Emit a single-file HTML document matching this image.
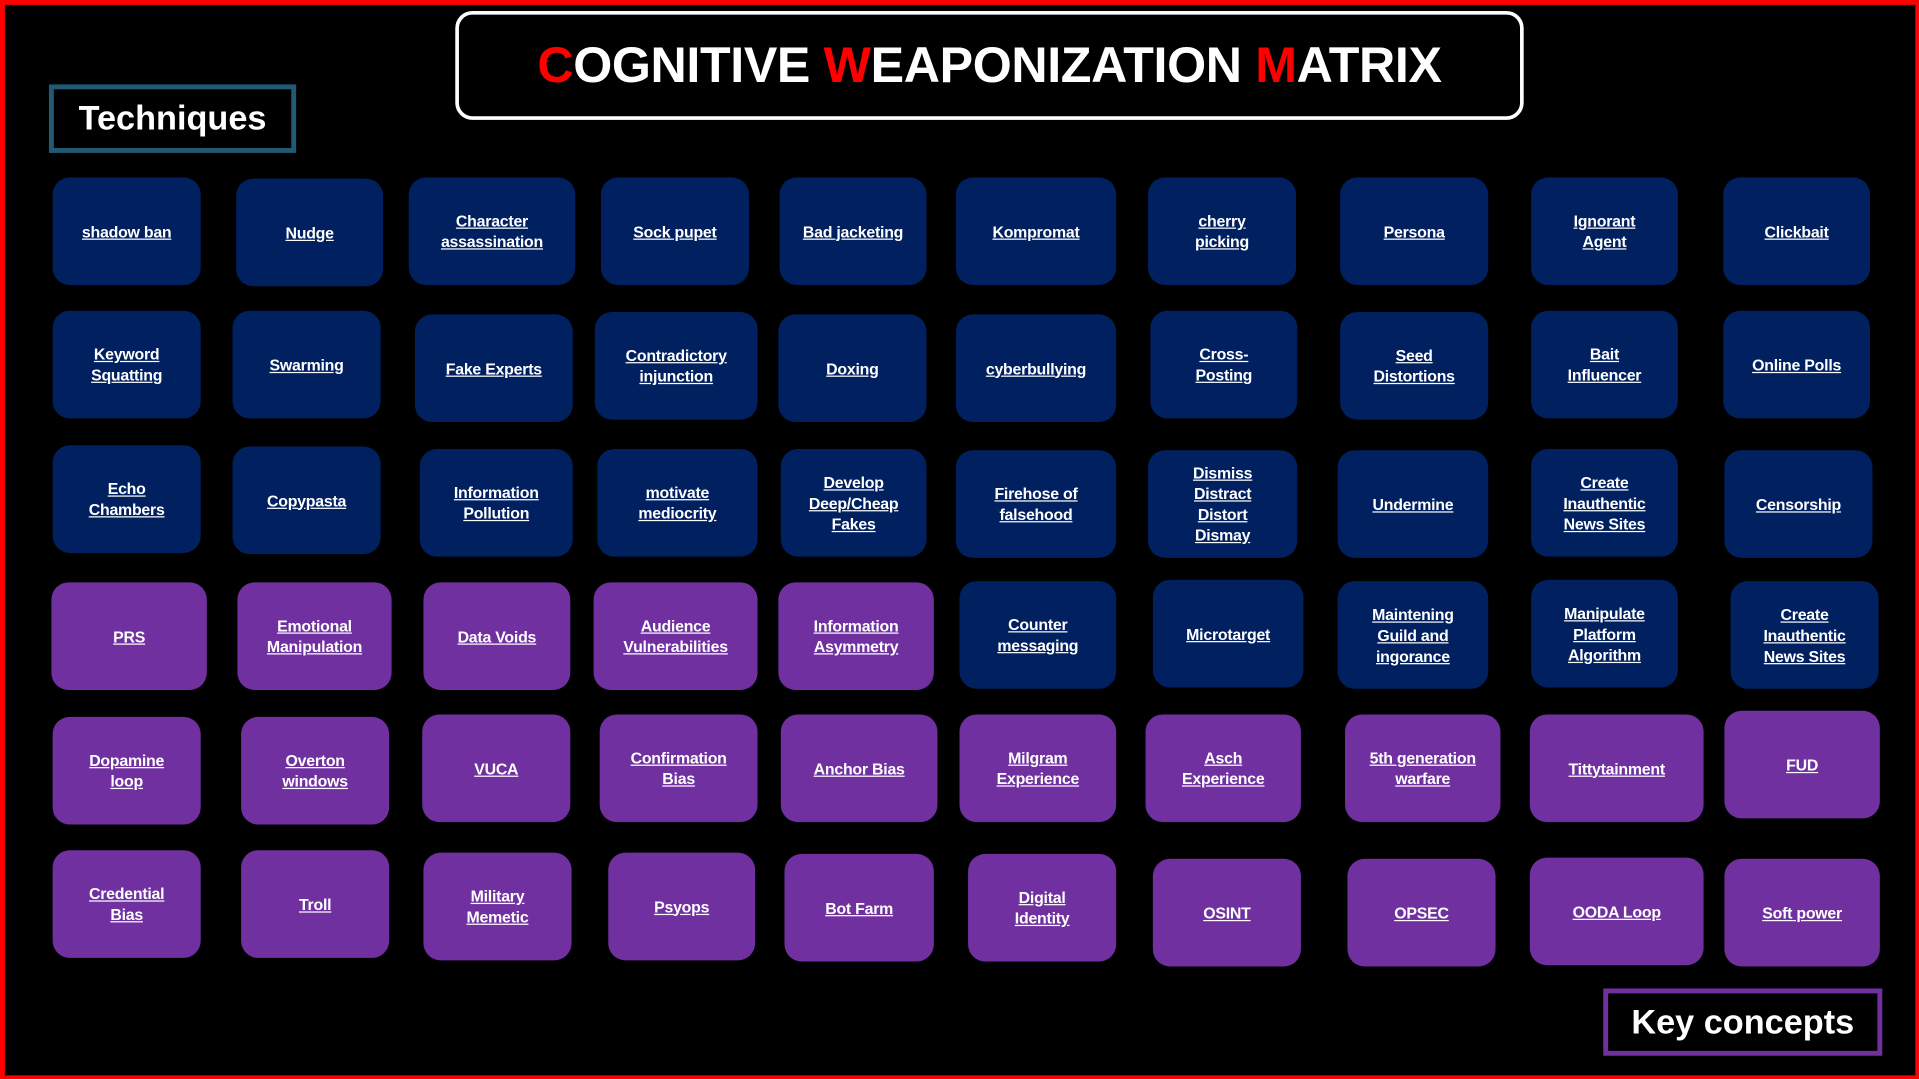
<!DOCTYPE html>
<html><head><meta charset="utf-8"><style>
html,body{margin:0;padding:0;background:#000;overflow:hidden}
#wrap{position:absolute;left:0;top:0;width:1568px;height:882px;transform:scale(1.22385,1.22336);transform-origin:0 0;background:#000}
#frame{position:absolute;left:0;top:0;width:1568px;height:882px;box-sizing:border-box;border:4px solid #ff0000;border-right-width:3px;border-bottom-width:3px}
.b{position:absolute;display:flex;align-items:center;justify-content:center;text-align:center;color:#fff;font-family:"Liberation Sans",sans-serif;font-weight:bold;font-size:13px;letter-spacing:-0.2px;line-height:17px;text-decoration:underline;border-radius:14px;box-sizing:border-box;padding:0 4px}
.n{background:#002060}.p{background:#7030a0}
#title{position:absolute;left:372px;top:9px;width:873px;height:89px;border:3px solid #fff;border-radius:14px;box-sizing:border-box;display:flex;align-items:center;justify-content:center;color:#fff;font-family:"Liberation Sans",sans-serif;font-weight:bold;font-size:41px;letter-spacing:-0.3px}
#title span{color:#ff0000}
.lab{position:absolute;box-sizing:border-box;display:flex;align-items:center;justify-content:center;color:#fff;font-family:"Liberation Sans",sans-serif;font-weight:bold;font-size:28px}
</style></head><body><div id="wrap">
<div id="frame"></div>
<div id="title"><span>C</span>OGNITIVE&nbsp;<span>W</span>EAPONIZATION&nbsp;<span>M</span>ATRIX</div>
<div class="lab" style="left:40px;top:69px;width:202px;height:56px;border:4px solid #215a72">Techniques</div>
<div class="lab" style="left:1310px;top:808px;width:228px;height:55px;border:4px solid #7030a0">Key concepts</div>

<div class="b n" style="left:43px;top:145px;width:121px;height:88px">shadow ban</div>
<div class="b n" style="left:193px;top:146px;width:120px;height:88px">Nudge</div>
<div class="b n" style="left:334px;top:145px;width:136px;height:88px">Character<br>assassination</div>
<div class="b n" style="left:491px;top:145px;width:121px;height:88px">Sock pupet</div>
<div class="b n" style="left:637px;top:145px;width:120px;height:88px">Bad jacketing</div>
<div class="b n" style="left:781px;top:145px;width:131px;height:88px">Kompromat</div>
<div class="b n" style="left:938px;top:145px;width:121px;height:88px">cherry<br>picking</div>
<div class="b n" style="left:1095px;top:145px;width:121px;height:88px">Persona</div>
<div class="b n" style="left:1251px;top:145px;width:120px;height:88px">Ignorant<br>Agent</div>
<div class="b n" style="left:1408px;top:145px;width:120px;height:88px">Clickbait</div>

<div class="b n" style="left:43px;top:254px;width:121px;height:88px">Keyword<br>Squatting</div>
<div class="b n" style="left:190px;top:254px;width:121px;height:88px">Swarming</div>
<div class="b n" style="left:339px;top:257px;width:129px;height:88px">Fake Experts</div>
<div class="b n" style="left:486px;top:255px;width:133px;height:88px">Contradictory<br>injunction</div>
<div class="b n" style="left:636px;top:257px;width:121px;height:88px">Doxing</div>
<div class="b n" style="left:781px;top:257px;width:131px;height:88px">cyberbullying</div>
<div class="b n" style="left:940px;top:254px;width:120px;height:88px">Cross-<br>Posting</div>
<div class="b n" style="left:1095px;top:255px;width:121px;height:88px">Seed<br>Distortions</div>
<div class="b n" style="left:1251px;top:254px;width:120px;height:88px">Bait<br>Influencer</div>
<div class="b n" style="left:1408px;top:254px;width:120px;height:88px">Online Polls</div>

<div class="b n" style="left:43px;top:364px;width:121px;height:88px">Echo<br>Chambers</div>
<div class="b n" style="left:190px;top:365px;width:121px;height:88px">Copypasta</div>
<div class="b n" style="left:343px;top:367px;width:125px;height:88px">Information<br>Pollution</div>
<div class="b n" style="left:488px;top:367px;width:131px;height:88px">motivate<br>mediocrity</div>
<div class="b n" style="left:638px;top:367px;width:119px;height:88px">Develop<br>Deep/Cheap<br>Fakes</div>
<div class="b n" style="left:781px;top:368px;width:131px;height:88px">Firehose of<br>falsehood</div>
<div class="b n" style="left:938px;top:368px;width:122px;height:88px">Dismiss<br>Distract<br>Distort<br>Dismay</div>
<div class="b n" style="left:1093px;top:368px;width:123px;height:88px">Undermine</div>
<div class="b n" style="left:1251px;top:367px;width:120px;height:88px">Create<br>Inauthentic<br>News Sites</div>
<div class="b n" style="left:1409px;top:368px;width:121px;height:88px">Censorship</div>

<div class="b p" style="left:42px;top:476px;width:127px;height:88px">PRS</div>
<div class="b p" style="left:194px;top:476px;width:126px;height:88px">Emotional<br>Manipulation</div>
<div class="b p" style="left:346px;top:476px;width:120px;height:88px">Data Voids</div>
<div class="b p" style="left:485px;top:476px;width:134px;height:88px">Audience<br>Vulnerabilities</div>
<div class="b p" style="left:636px;top:476px;width:127px;height:88px">Information<br>Asymmetry</div>
<div class="b n" style="left:784px;top:475px;width:128px;height:88px">Counter<br>messaging</div>
<div class="b n" style="left:942px;top:474px;width:123px;height:88px">Microtarget</div>
<div class="b n" style="left:1093px;top:475px;width:123px;height:88px">Maintening<br>Guild and<br>ingorance</div>
<div class="b n" style="left:1251px;top:474px;width:120px;height:88px">Manipulate<br>Platform<br>Algorithm</div>
<div class="b n" style="left:1414px;top:475px;width:121px;height:88px">Create<br>Inauthentic<br>News Sites</div>

<div class="b p" style="left:43px;top:586px;width:121px;height:88px">Dopamine<br>loop</div>
<div class="b p" style="left:197px;top:586px;width:121px;height:88px">Overton<br>windows</div>
<div class="b p" style="left:345px;top:584px;width:121px;height:88px">VUCA</div>
<div class="b p" style="left:490px;top:584px;width:129px;height:88px">Confirmation<br>Bias</div>
<div class="b p" style="left:638px;top:584px;width:128px;height:88px">Anchor Bias</div>
<div class="b p" style="left:784px;top:584px;width:128px;height:88px">Milgram<br>Experience</div>
<div class="b p" style="left:936px;top:584px;width:127px;height:88px">Asch<br>Experience</div>
<div class="b p" style="left:1099px;top:584px;width:127px;height:88px">5th generation<br>warfare</div>
<div class="b p" style="left:1250px;top:584px;width:142px;height:88px">Tittytainment</div>
<div class="b p" style="left:1409px;top:581px;width:127px;height:88px">FUD</div>

<div class="b p" style="left:43px;top:695px;width:121px;height:88px">Credential<br>Bias</div>
<div class="b p" style="left:197px;top:695px;width:121px;height:88px">Troll</div>
<div class="b p" style="left:346px;top:697px;width:121px;height:88px">Military<br>Memetic</div>
<div class="b p" style="left:497px;top:697px;width:120px;height:88px">Psyops</div>
<div class="b p" style="left:641px;top:698px;width:122px;height:88px">Bot Farm</div>
<div class="b p" style="left:791px;top:698px;width:121px;height:88px">Digital<br>Identity</div>
<div class="b p" style="left:942px;top:702px;width:121px;height:88px">OSINT</div>
<div class="b p" style="left:1101px;top:702px;width:121px;height:88px">OPSEC</div>
<div class="b p" style="left:1250px;top:701px;width:142px;height:88px">OODA Loop</div>
<div class="b p" style="left:1409px;top:702px;width:127px;height:88px">Soft power</div>
</div></body></html>
